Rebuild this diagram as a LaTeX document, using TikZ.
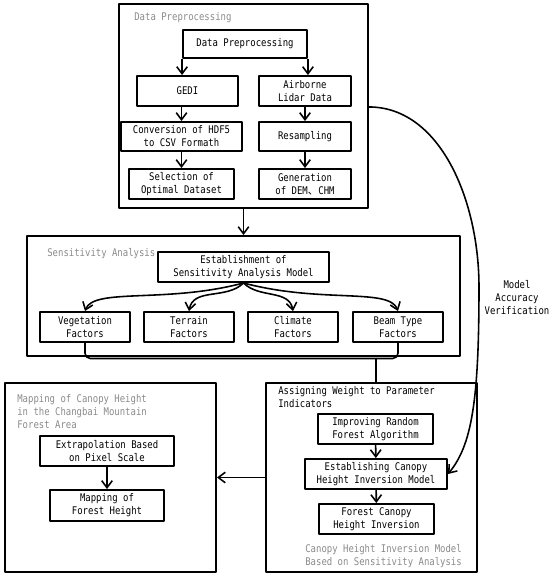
\documentclass[tikz,border=0pt]{standalone}
\usepackage{fontspec}
\newfontfamily\flowfont[FakeStretch=0.85]{DejaVu Sans Mono}
\newfontfamily\cjkfont{Noto Sans CJK SC}
\usetikzlibrary{arrows.meta}
\definecolor{titlegray}{HTML}{8A8A8A}
\tikzset{
  every picture/.style={line join=round, >={Straight Barb[length=4pt,width=6pt]}},
  every node/.style={font=\flowfont\fontsize{6}{7.4}\selectfont},
  frame/.style={draw, line width=1.1pt, inner sep=0pt},
  box/.style={draw, line width=1.1pt, align=center, inner sep=1pt},
  grouptitle/.style={text=titlegray, align=left, inner sep=0pt},
  link/.style={line width=0.9pt},
}

\begin{document}
\begin{tikzpicture}[x=0.02cm,y=-0.02cm]
\useasboundingbox (0,0) rectangle (550,576);
\node[frame, minimum width=4.98cm, minimum height=4.08cm] (frame1) at (243.5,106) {};
\node[frame, minimum width=8.66cm, minimum height=2.4cm] (frame2) at (243.5,296) {};
\node[frame, minimum width=4.22cm, minimum height=3.78cm] (frame3) at (110.5,477.5) {};
\node[frame, minimum width=4.22cm, minimum height=3.78cm] (frame4) at (371.5,477.5) {};
\node[grouptitle, anchor=west] (title1) at (134,18) {Data Preprocessing};
\node[grouptitle, anchor=west] (title2) at (47,254) {Sensitivity Analysis};
\node[grouptitle, anchor=north west] (title3) at (17,394) {Mapping of Canopy Height\\in the Changbai Mountain\\Forest Area};
\node[grouptitle, text=black, anchor=north west] (title4) at (278,386) {Assigning Weight to Parameter\\Indicators};
\node[grouptitle, anchor=north west] (title5) at (305,544) {Canopy Height Inversion Model\\Based on Sensitivity Analysis};
\node[box, minimum width=2.48cm, minimum height=0.56cm] (dp) at (245,44) {Data Preprocessing};
\node[box, minimum width=2.02cm, minimum height=0.6cm] (gedi) at (187.5,91) {GEDI};
\node[box, minimum width=1.84cm, minimum height=0.6cm] (air) at (305,91) {Airborne\\Lidar Data};
\node[box, minimum width=2.42cm, minimum height=0.58cm] (conv) at (181.5,136.5) {Conversion of HDF5\\to CSV Formath};
\node[box, minimum width=1.84cm, minimum height=0.58cm] (resamp) at (305,136.5) {Resampling};
\node[box, minimum width=2.1cm, minimum height=0.6cm] (sel) at (181.5,184) {Selection of\\Optimal Dataset};
\node[box, minimum width=1.84cm, minimum height=0.6cm] (gen) at (305,184) {Generation\\of DEM{\cjkfont 、}CHM};
\node[box, minimum width=3.42cm, minimum height=0.6cm] (est) at (243.5,267) {Establishment of\\Sensitivity Analysis Model};
\node[box, minimum width=1.8cm, minimum height=0.6cm] (veg) at (85,327) {Vegetation\\Factors};
\node[box, minimum width=1.8cm, minimum height=0.6cm] (ter) at (189,327) {Terrain\\Factors};
\node[box, minimum width=1.8cm, minimum height=0.6cm] (cli) at (293,327) {Climate\\Factors};
\node[box, minimum width=1.8cm, minimum height=0.6cm] (beam) at (398,327) {Beam Type\\Factors};
\node[box, minimum width=2.68cm, minimum height=0.6cm] (extra) at (107,451) {Extrapolation Based\\on Pixel Scale};
\node[box, minimum width=2.28cm, minimum height=0.62cm] (mapf) at (107,505.5) {Mapping of\\Forest Height};
\node[box, minimum width=2.3cm, minimum height=0.6cm] (impr) at (375.5,429) {Improving Random\\Forest Algorithm};
\node[box, minimum width=2.84cm, minimum height=0.6cm] (estb) at (376,474) {Establishing Canopy\\Height Inversion Model};
\node[box, minimum width=2.3cm, minimum height=0.6cm] (fch) at (376.5,519) {Forest Canopy\\Height Inversion};
\node[align=center] (verif) at (517,298) {Model\\Accuracy\\Verification};
\coordinate (merge) at (376,358.5);
\draw[link, ->] (dp.south west) -- (dp.south west |- gedi.north);
\draw[link, ->] (dp.south east) -- (dp.south east |- air.north);
\draw[link, ->] (gedi.south -| conv.north) -- (conv.north);
\draw[link, ->] (conv) -- (sel);
\draw[link, ->] (air) -- (resamp);
\draw[link, ->] (resamp) -- (gen);
\draw[link, ->] (frame1.south) -- (frame2.north);
\draw[link, ->] (est.south) to[out=195, in=70, out distance=1.6cm, in distance=0.5cm] (veg.north);
\draw[link, ->] (est.south) to[out=225, in=80] (ter.north);
\draw[link, ->] (est.south) to[out=-45, in=100] (cli.north);
\draw[link, ->] (est.south) to[out=-15, in=110, out distance=1.6cm, in distance=0.5cm] (beam.north);
\draw[link, rounded corners=3] (veg.south) |- (merge);
\draw[link, rounded corners=3] (beam.south) |- (merge);
\draw[link] (merge) -- (merge |- frame4.north);
\draw[link, ->] (impr) -- (estb);
\draw[link, ->] (estb) -- (fch);
\draw[link, ->] (extra) -- (mapf);
\draw[link, ->] (frame4.west) -- (frame3.east);
\draw[link, ->] (frame1.east |- air.south) .. controls (440,107) and (479,200) .. (479,287)
  .. controls (479,400) and (472,445) .. (estb.east);
\end{tikzpicture}
\end{document}
